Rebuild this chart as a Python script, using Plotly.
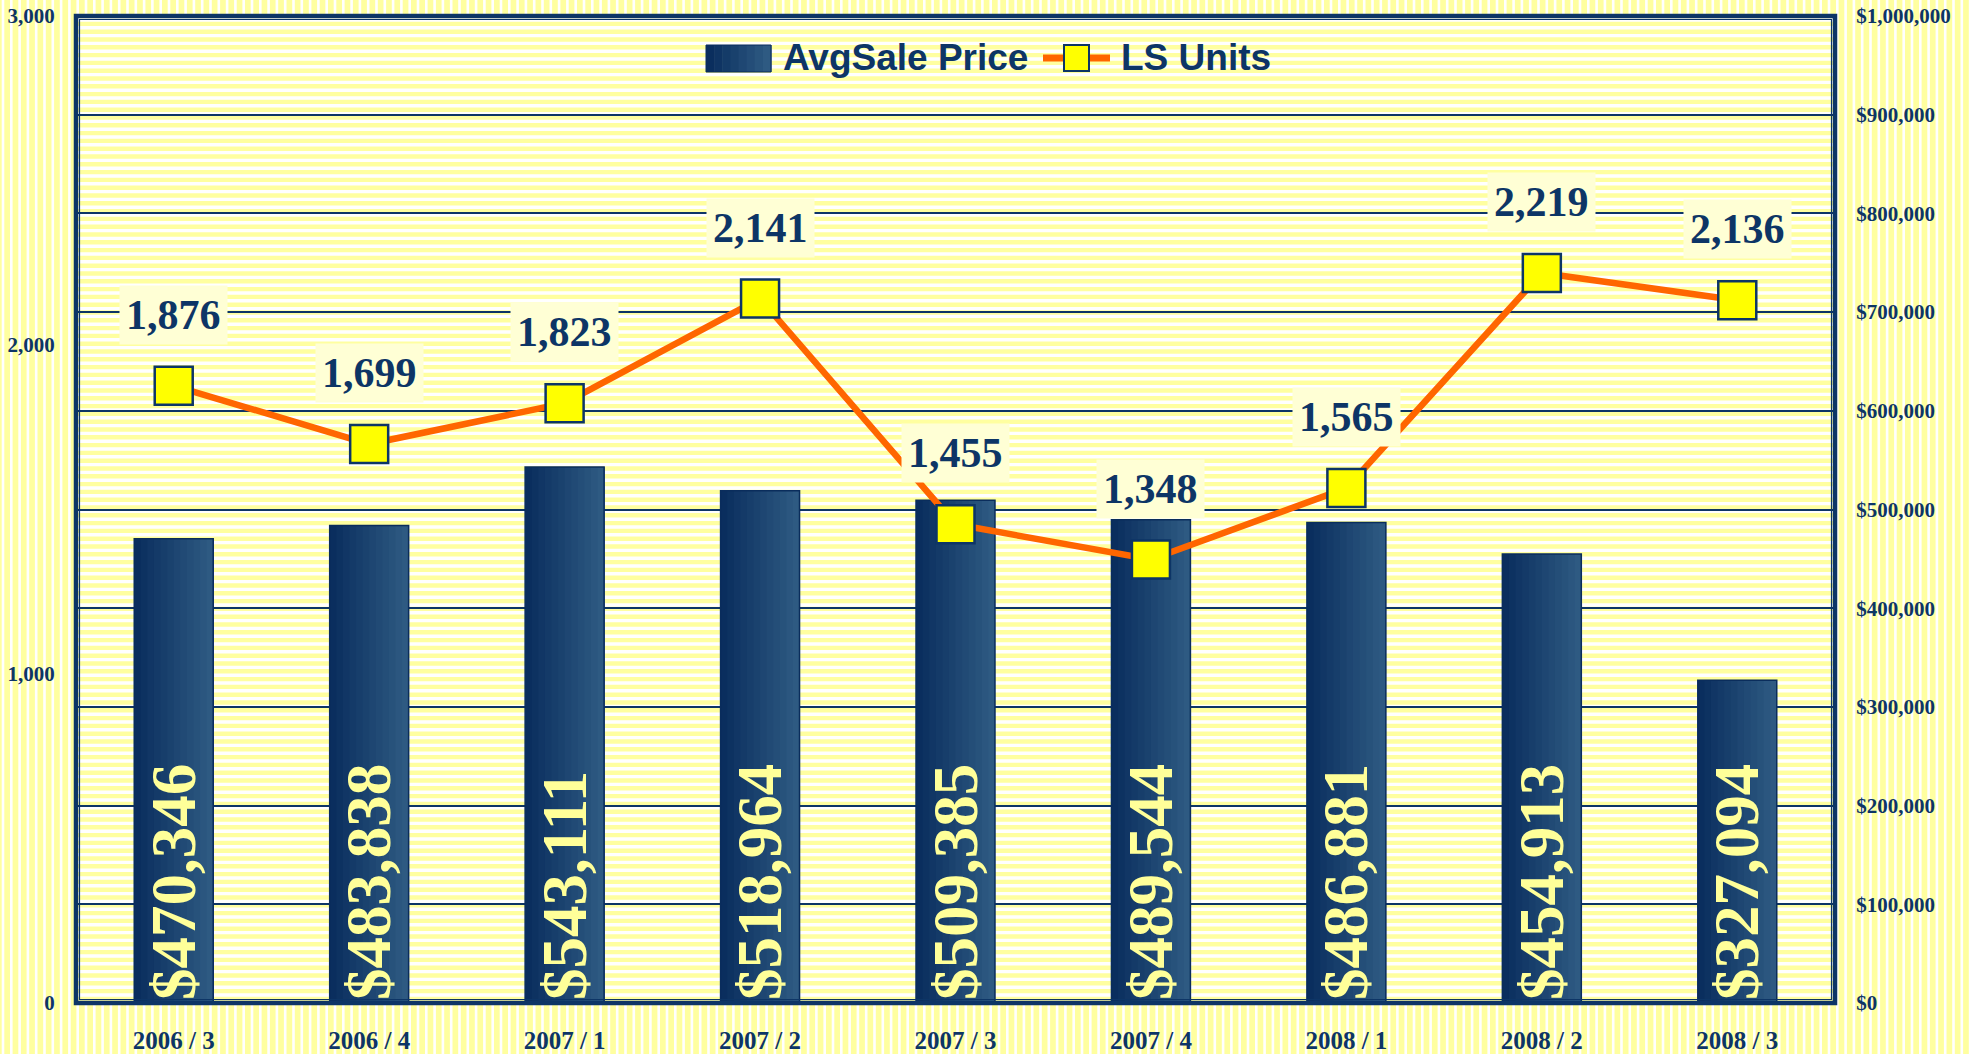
import numpy as np
import plotly.graph_objects as go

# ---------------- data ----------------
quarters = ["2006 / 3", "2006 / 4", "2007 / 1", "2007 / 2", "2007 / 3",
            "2007 / 4", "2008 / 1", "2008 / 2", "2008 / 3"]
avg_sale_price = [470346, 483838, 543111, 518964, 509385, 489544, 486881, 454913, 327094]
ls_units = [1876, 1699, 1823, 2141, 1455, 1348, 1565, 2219, 2136]
legend_names = ["AvgSale Price", "LS Units"]

# ---------------- styling ----------------
W, H = 1971, 1054
L, R, T, B = 76, 136, 16, 51
pw, ph = W - L - R, H - T - B
NAVY = "#0D3566"
YELLOW = "#FFFFA0"
SERIF = "Liberation Serif"
BAR_W = 0.404
N_STRIPS = 12
C_LEFT = np.array([0x0A, 0x2E, 0x5E])
C_RIGHT = np.array([0x2E, 0x5A, 0x82])


def px2x(p):
    return (p - L) / pw


def py2y(p):
    return 1 - (p - T) / ph


def grad_color(t):
    c = C_LEFT + (C_RIGHT - C_LEFT) * t
    return "#%02X%02X%02X" % tuple(int(round(v)) for v in c)


fig = go.Figure()

# gradient bars: nested strips, each drawn from the data
step = BAR_W / N_STRIPS
for k in range(N_STRIPS):
    fig.add_trace(go.Bar(
        x=quarters, y=avg_sale_price, yaxis="y", showlegend=False,
        width=BAR_W - k * step, offset=-BAR_W / 2 + k * step,
        marker=dict(color=grad_color(k / (N_STRIPS - 1)), line=dict(width=0)),
        hoverinfo="skip",
    ))

# outline + value labels
fig.add_trace(go.Bar(
    x=quarters, y=avg_sale_price, name=legend_names[0], yaxis="y", showlegend=False,
    width=BAR_W, offset=-BAR_W / 2,
    marker=dict(color="rgba(0,0,0,0)", line=dict(color="#0A2D5C", width=1.5)),
    texttemplate="<b>$%{y:,}</b>", textposition="inside", textangle=-90,
    insidetextanchor="start",
    textfont=dict(family=SERIF, size=63, color="#FFFF99"),
    hoverinfo="skip",
))

fig.add_trace(go.Scatter(
    x=quarters, y=ls_units, name=legend_names[1], yaxis="y2", mode="lines+markers",
    showlegend=False,
    line=dict(color="#FF6600", width=6.5),
    marker=dict(symbol="square", size=38, color="#FFFF00",
                line=dict(color=NAVY, width=2.5)),
    hoverinfo="skip",
))

for q, u in zip(quarters, ls_units):
    fig.add_annotation(
        x=q, y=u, xref="x", yref="y2", yshift=71, showarrow=False,
        text=f"<b>{u:,}</b>", bgcolor="#FFFFD5", borderpad=6,
        font=dict(family=SERIF, size=42, color=NAVY),
    )

# background stripes (decoration)
vx = np.arange(3, W, 8.3)
vpath = "".join(f"M{px2x(x):.5f},{py2y(-5):.5f}L{px2x(x):.5f},{py2y(H + 5):.5f}" for x in vx)
hy = np.arange(T + 4, H - B, 7.8)
hpath = "".join(f"M0,{py2y(y):.5f}L1,{py2y(y):.5f}" for y in hy)

shapes = [
    dict(type="path", path=vpath, xref="paper", yref="paper", layer="below",
         line=dict(color="white", width=2.6)),
    dict(type="rect", x0=0, x1=1, y0=0, y1=1, xref="paper", yref="paper", layer="below",
         fillcolor=YELLOW, line=dict(width=0)),
    dict(type="path", path=hpath, xref="paper", yref="paper", layer="below",
         line=dict(color="white", width=3.4)),
    dict(type="rect", x0=0, x1=1, y0=0, y1=1, xref="paper", yref="paper", layer="above",
         line=dict(color=NAVY, width=4.5)),
    dict(type="rect", x0=px2x(L + 3.5), x1=px2x(W - R - 3.5), y0=py2y(H - B - 3.5),
         y1=py2y(T + 3.5), xref="paper", yref="paper", layer="above",
         line=dict(color=NAVY, width=1.2)),
]

# custom legend (matching the wide swatch of the original)
LEG_Y = 58
lx0, lx1, ly0, ly1 = 706, 771, 45, 72
nseg = 8
for k in range(nseg):
    a = lx0 + (lx1 - lx0) * k / nseg
    b = lx0 + (lx1 - lx0) * (k + 1) / nseg + 0.6
    shapes.append(dict(type="rect", x0=px2x(a), x1=px2x(b), y0=py2y(ly1), y1=py2y(ly0),
                       xref="paper", yref="paper", layer="above",
                       fillcolor=grad_color(k / (nseg - 1)), line=dict(width=0)))
shapes.append(dict(type="rect", x0=px2x(lx0), x1=px2x(lx1), y0=py2y(ly1), y1=py2y(ly0),
                   xref="paper", yref="paper", layer="above",
                   line=dict(color="#0A2D5C", width=1)))
shapes.append(dict(type="line", x0=px2x(1043), x1=px2x(1110), y0=py2y(LEG_Y), y1=py2y(LEG_Y),
                   xref="paper", yref="paper", layer="above",
                   line=dict(color="#FF6600", width=7)))
shapes.append(dict(type="rect", x0=px2x(1064), x1=px2x(1089), y0=py2y(LEG_Y + 13),
                   y1=py2y(LEG_Y - 13),
                   xref="paper", yref="paper", layer="above",
                   fillcolor="#FFFF00", line=dict(color=NAVY, width=2)))

for name, xpx in zip(legend_names, [781, 1119]):
    fig.add_annotation(
        x=px2x(xpx), y=py2y(LEG_Y), xref="paper", yref="paper", xanchor="left",
        yanchor="middle", showarrow=False, text=f"<b>{name}</b>",
        font=dict(family="Liberation Sans", size=37, color=NAVY),
    )

fig.update_layout(
    width=W, height=H,
    margin=dict(l=L, r=R, t=T, b=B, pad=0, autoexpand=False),
    paper_bgcolor=YELLOW, plot_bgcolor="rgba(0,0,0,0)",
    barmode="overlay", shapes=shapes,
    showlegend=False,
    xaxis=dict(type="category", range=[-0.5, len(quarters) - 0.5],
               showgrid=False, zeroline=False, showline=False,
               automargin=False,
               ticks="outside", ticklen=15, tickcolor="rgba(0,0,0,0)",
               tickfont=dict(family=SERIF, size=25, color=NAVY, weight="bold")),
    yaxis=dict(range=[0, 1000000], side="right", dtick=100000, tickprefix="$",
               tickformat=",.0f", showgrid=True, gridcolor=NAVY, gridwidth=2,
               automargin=False,
               zeroline=False, showline=False, ticks="outside", ticklen=16,
               tickcolor="rgba(0,0,0,0)",
               tickfont=dict(family=SERIF, size=21, color=NAVY, weight="bold")),
    yaxis2=dict(range=[0, 3000], side="left", overlaying="y", dtick=1000,
                automargin=False,
                tickformat=",", showgrid=False, zeroline=False, showline=False,
                ticks="outside", ticklen=16, tickcolor="rgba(0,0,0,0)",
                tickfont=dict(family=SERIF, size=21, color=NAVY, weight="bold")),
)

fig.write_html("out.html", config={"displayModeBar": False},
               post_script="document.body.style.margin='0px';")
